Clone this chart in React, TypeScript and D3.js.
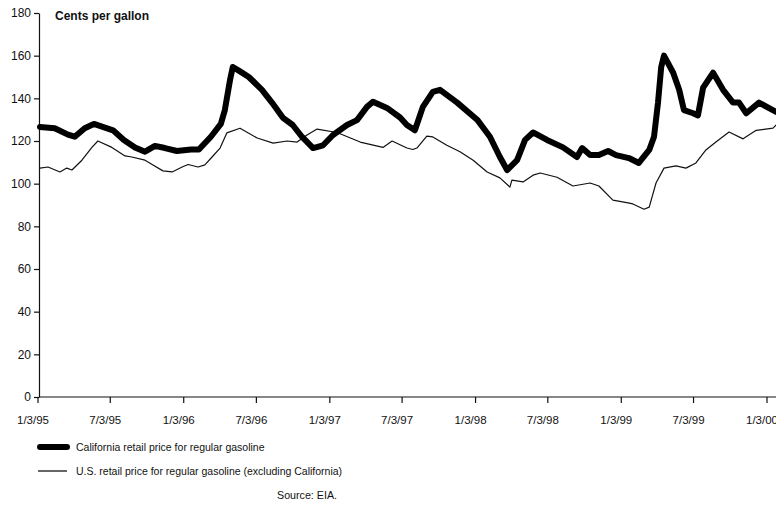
import React, { useRef, useEffect } from 'react';
import * as d3 from 'd3';

// California retail price for regular gasoline (cents per gallon)
const caDates = [
  '1995-01-08', '1995-02-14', '1995-03-19', '1995-04-05', '1995-04-30', '1995-05-23',
  '1995-07-10', '1995-08-06', '1995-09-03', '1995-09-28', '1995-10-23', '1995-11-17',
  '1995-12-17', '1996-01-21', '1996-02-10', '1996-03-11', '1996-04-05', '1996-04-15',
  '1996-04-28', '1996-05-05', '1996-05-20', '1996-06-14', '1996-07-17', '1996-08-11',
  '1996-09-07', '1996-10-02', '1996-10-25', '1996-11-22', '1996-12-17', '1997-01-11',
  '1997-02-15', '1997-03-12', '1997-04-06', '1997-04-21', '1997-05-26', '1997-06-28',
  '1997-07-15', '1997-08-04', '1997-08-24', '1997-09-18', '1997-10-06', '1997-11-18',
  '1998-01-07', '1998-02-08', '1998-03-05', '1998-03-23', '1998-04-17', '1998-05-07',
  '1998-05-27', '1998-07-01', '1998-08-10', '1998-09-14', '1998-09-27', '1998-10-17',
  '1998-11-08', '1998-12-01', '1998-12-21', '1999-01-22', '1999-02-16', '1999-03-14',
  '1999-03-26', '1999-04-05', '1999-04-13', '1999-04-20', '1999-05-13', '1999-05-28',
  '1999-06-09', '1999-07-02', '1999-07-14', '1999-07-27', '1999-08-21', '1999-09-15',
  '1999-10-10', '1999-10-25', '1999-11-12', '1999-12-14', '2000-01-26',
];
const caValues = [
  126.6, 126, 123, 122, 126, 128,
  125, 120.5, 117, 115, 117.7, 116.7,
  115.3, 116, 116, 122, 128, 134.5,
  148.6, 154.7, 153, 150, 144, 138,
  131, 127.5, 122, 116.7, 118, 122.8,
  127.5, 129.8, 136, 138.4, 135.5, 131,
  127.5, 125, 136, 143, 144, 138,
  130, 122, 112.5, 106.4, 111, 120.5,
  124, 120.5, 117, 112.5, 116.7, 113.4,
  113.4, 115.3, 113.4, 112, 109.7, 115.8,
  122, 138, 154.7, 160, 152, 144,
  134.5, 133, 132, 145, 152, 144,
  138, 138, 133, 138, 133.6,
];

// U.S. retail price for regular gasoline, excluding California
const usDates = [
  '1995-01-08', '1995-01-28', '1995-02-27', '1995-03-16', '1995-03-29', '1995-04-23',
  '1995-05-18', '1995-06-02', '1995-07-07', '1995-08-09', '1995-08-26', '1995-09-28',
  '1995-10-18', '1995-11-12', '1995-12-05', '1995-12-30', '1996-01-14', '1996-02-08',
  '1996-02-25', '1996-03-14', '1996-04-03', '1996-04-20', '1996-05-23', '1996-07-05',
  '1996-08-14', '1996-09-18', '1996-10-13', '1996-11-07', '1996-12-02', '1997-01-21',
  '1997-03-20', '1997-05-16', '1997-06-08', '1997-07-15', '1997-07-30', '1997-08-09',
  '1997-09-03', '1997-09-18', '1997-10-23', '1997-11-25', '1997-12-28', '1998-02-01',
  '1998-03-05', '1998-03-30', '1998-04-04', '1998-05-02', '1998-05-27', '1998-06-14',
  '1998-07-26', '1998-09-04', '1998-10-17', '1998-11-08', '1998-12-13', '1999-01-20',
  '1999-02-01', '1999-03-01', '1999-03-14', '1999-03-31', '1999-04-20', '1999-05-20',
  '1999-06-14', '1999-07-09', '1999-08-03', '1999-08-28', '1999-09-30', '1999-11-04',
  '1999-12-07', '2000-01-18', '2000-01-26',
];
const usValues = [
  107.3, 107.8, 105.5, 107.3, 106.4, 111,
  117, 120, 117, 113, 112.5, 111,
  108.8, 106, 105.5, 107.8, 109, 107.8,
  108.8, 112.5, 116.7, 123.8, 126, 121.4,
  119, 120, 119.5, 122.8, 125.6, 124,
  119.5, 117, 120, 116.7, 116, 116.7,
  122.3, 121.9, 118, 115, 111, 105.5,
  102.7, 98.4, 101.7, 100.8, 104, 105,
  103, 98.9, 100.3, 98.9, 92.3, 91,
  90.5, 88, 89, 100.3, 107.3, 108.3,
  107.3, 109.7, 115.8, 119.5, 124.2, 121,
  125, 126, 127.5,
];

const xTickDates = [
  '1995-01-03', '1995-07-03', '1996-01-03', '1996-07-03', '1997-01-03', '1997-07-03',
  '1998-01-03', '1998-07-03', '1999-01-03', '1999-07-03', '2000-01-03',
];
const xTickLabels = [
  '1/3/95', '7/3/95', '1/3/96', '7/3/96', '1/3/97', '7/3/97',
  '1/3/98', '7/3/98', '1/3/99', '7/3/99', '1/3/00',
];
const yTicks = [0, 20, 40, 60, 80, 100, 120, 140, 160, 180];

const legendLabels = [
  'California retail price for regular gasoline',
  'U.S. retail price for regular gasoline (excluding California)',
];

interface Pt { date: Date; value: number }

const FONT = '"Liberation Sans", Arial, Helvetica, sans-serif';

export default function App() {
  const svgRef = useRef<SVGSVGElement>(null);

  useEffect(() => {
    if (!svgRef.current) return;
    const parse = d3.timeParse('%Y-%m-%d');
    const ca: Pt[] = caDates.map((d, i) => ({ date: parse(d)!, value: caValues[i] }));
    const us: Pt[] = usDates.map((d, i) => ({ date: parse(d)!, value: usValues[i] }));

    const W = 776;
    const H = 508;
    const left = 39;
    const x = d3.scaleTime()
      .domain([parse('1995-01-03')!, parse('2000-01-03')!])
      .range([38, 767]);
    const y = d3.scaleLinear().domain([0, 180]).range([397, 13]);

    const svg = d3.select(svgRef.current).attr('width', W).attr('height', H);
    svg.selectAll('*').remove();

    svg.append('rect').attr('width', W).attr('height', H).attr('fill', '#fff');

    // Y axis
    const yAxis = svg.append('g')
      .attr('transform', `translate(${left},0)`)
      .call(d3.axisLeft(y).tickValues(yTicks).tickSize(5).tickSizeOuter(0).tickPadding(3));
    yAxis.select('.domain').attr('stroke', '#111').attr('stroke-width', 1.2);
    yAxis.selectAll('.tick line').attr('stroke', '#111').attr('stroke-width', 1.2);
    yAxis.selectAll('.tick text')
      .attr('fill', '#111')
      .style('font-family', FONT)
      .style('font-size', '12px');

    // X axis
    const xAxisG = svg.append('g').attr('transform', `translate(0,${y(0)})`);
    xAxisG.append('line')
      .attr('x1', left).attr('x2', W)
      .attr('stroke', '#111').attr('stroke-width', 1.2);
    const xt = xAxisG.selectAll('.xtick')
      .data(xTickDates)
      .enter()
      .append('g')
      .attr('transform', d => `translate(${x(parse(d)!)},0)`);
    xt.append('line').attr('y1', 0).attr('y2', 6).attr('stroke', '#111').attr('stroke-width', 1.2);
    xt.append('text')
      .attr('y', 27)
      .attr('dx', -5)
      .attr('text-anchor', 'middle')
      .attr('fill', '#111')
      .style('font-family', FONT)
      .style('font-size', '11.5px')
      .text((_, i) => xTickLabels[i]);

    // Title
    svg.append('text')
      .attr('x', 55).attr('y', 20)
      .attr('fill', '#111')
      .style('font-family', FONT)
      .style('font-size', '12px')
      .style('font-weight', 'bold')
      .text('Cents per gallon');

    const line = d3.line<Pt>()
      .x(d => x(d.date))
      .y(d => y(d.value));

    svg.append('path')
      .datum(us)
      .attr('fill', 'none')
      .attr('stroke', '#111')
      .attr('stroke-width', 1.2)
      .attr('stroke-linejoin', 'round')
      .attr('d', line);

    svg.append('path')
      .datum(ca)
      .attr('fill', 'none')
      .attr('stroke', '#000')
      .attr('stroke-width', 6)
      .attr('stroke-linejoin', 'round')
      .attr('stroke-linecap', 'round')
      .attr('d', line);

    // Legend
    const legend = svg.append('g');
    const legendY = [447, 471];
    const legendW = [6, 1.2];
    legendLabels.forEach((label, i) => {
      legend.append('line')
        .attr('x1', i === 0 ? 40 : 38).attr('x2', i === 0 ? 67 : 67)
        .attr('y1', legendY[i]).attr('y2', legendY[i])
        .attr('stroke', '#000')
        .attr('stroke-width', legendW[i])
        .attr('stroke-linecap', i === 0 ? 'round' : 'butt');
      legend.append('text')
        .attr('x', 76).attr('y', legendY[i] + 4)
        .attr('fill', '#111')
        .style('font-family', FONT)
        .style('font-size', '10.5px')
        .text(label);
    });

    svg.append('text')
      .attr('x', 277).attr('y', 499)
      .attr('fill', '#111')
      .style('font-family', FONT)
      .style('font-size', '10.7px')
      .text('Source: EIA.');
  }, []);

  return (
    <div style={{ position: 'absolute', left: 0, top: 0, width: 776, height: 508 }}>
      <svg ref={svgRef} style={{ display: 'block' }} />
    </div>
  );
}
